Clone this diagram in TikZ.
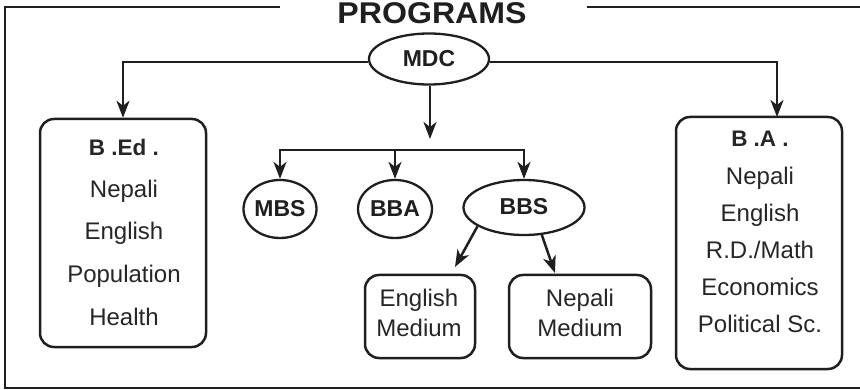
\documentclass[tikz,border=0pt]{standalone}
\usepackage{fontspec}
\usepackage{graphicx}
\setmainfont{Liberation Sans}
\usetikzlibrary{arrows.meta,shapes.geometric}
\begin{document}
\begin{tikzpicture}[x=1pt,y=-1pt,
  frame/.style={line width=2.8pt,color=black!88},
  conn/.style={line width=2.5pt,color=black!88},
  arr/.style={conn,-{Stealth[length=17pt,width=13pt,inset=5pt]}},
  oval/.style={draw,ellipse,line width=2.3pt,color=black!88,inner sep=0pt,font=\fontsize{23}{23}\selectfont\bfseries},
  rbox/.style={draw,rounded corners=14pt,line width=2.5pt,color=black!88,inner sep=0pt},
  txt/.style={anchor=base,inner sep=0pt,color=black!85,font=\fontsize{24}{24}\selectfont},
  head/.style={txt,font=\fontsize{22.5}{22.5}\selectfont\bfseries}]
\useasboundingbox (0,0) rectangle (860,390);
% frame
\draw[frame] (280,7) -- (5,7) -- (5,388) -- (860,388);
\draw[frame] (587,7) -- (860,7);
\node[anchor=base,inner sep=0pt,color=black!88,font=\fontsize{30}{30}\selectfont\bfseries] (title) at (432,24) {\scalebox{1.07}[1]{PROGRAMS}};
% ovals
\node[oval,minimum width=120pt,minimum height=51pt] (mdc) at (429,59) {MDC};
\node[oval,minimum width=73pt,minimum height=58pt] (mbs) at (280,209) {MBS};
\node[oval,minimum width=74pt,minimum height=58pt] (bba) at (395,209) {BBA};
\node[oval,minimum width=121pt,minimum height=55pt] (bbs) at (524,207.5) {\raisebox{2pt}{BBS}};
% boxes
\node[rbox,minimum width=166pt,minimum height=228pt] (bed) at (123,233) {};
\node[rbox,minimum width=166pt,minimum height=252pt] (ba) at (759,243) {};
\node[rbox,minimum width=110pt,minimum height=83pt] (em) at (420,316.5) {};
\node[rbox,minimum width=142pt,minimum height=83pt] (nm) at (580,316.5) {};
% box texts
\node[head] (bed0) at (124,156) {B .Ed .};
\node[txt] (bed1) at (124,198) {Nepali};
\node[txt] (bed2) at (124,240) {English};
\node[txt] (bed3) at (124,283) {Population};
\node[txt] (bed4) at (124,325) {Health};
\node[head] (ba0) at (760,147) {B .A .};
\node[txt] (ba1) at (760,185) {Nepali};
\node[txt] (ba2) at (760,222) {English};
\node[txt] (ba3) at (760,259) {R.D./Math};
\node[txt] (ba4) at (760,296) {Economics};
\node[txt] (ba5) at (760,333) {Political Sc.};
\node[txt] (em1) at (419,307) {English};
\node[txt] (em2) at (419,336) {Medium};
\node[txt] (nm1) at (580,307) {Nepali};
\node[txt] (nm2) at (580,336) {Medium};
% connectors
\coordinate (baIn) at (777,117);
\coordinate (hub) at (430,139);
\coordinate (barL) at (280,150);
\coordinate (barR) at (524,150);
\coordinate (emTip) at (455,267);
\coordinate (nmTip) at (555,273);
\draw[arr] (mdc.west |- 0,62) -| (bed.north);
\draw[arr] (mdc.east |- 0,62) -| (baIn);
\draw[arr] (mdc.south -| hub) -- (hub);
\draw[conn,line cap=rect] (barL) -- (barR);
\draw[arr] (barL) -- (mbs.north);
\draw[arr] (bba.north |- barL) -- (bba.north);
\draw[arr] (barR) -- (bbs.north);
\draw[arr] (bbs.202) -- (emTip);
\draw[arr] (bbs.303) -- (nmTip);
\end{tikzpicture}
\end{document}
